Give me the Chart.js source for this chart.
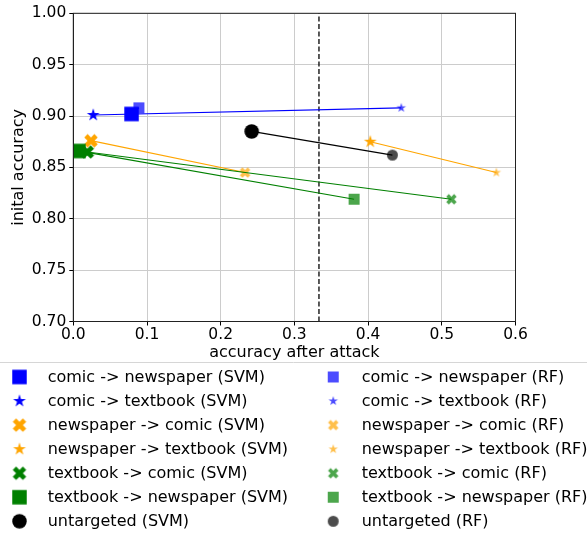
<!DOCTYPE html>
<html>
<head>
<meta charset="utf-8">
<script src="https://cdn.jsdelivr.net/npm/chart.js@4.4.1/dist/chart.umd.min.js"></script>
<style>
  html, body { margin: 0; padding: 0; background: #fff; }
  #wrap { width: 587px; height: 533px; }
</style>
</head>
<body>
<div id="wrap"><canvas id="chart" width="587" height="533"></canvas></div>
<script>
// one entry per attack, SVM point then RF point
const pairNames = ['comic -> newspaper', 'comic -> textbook', 'newspaper -> comic', 'newspaper -> textbook',
                   'textbook -> comic', 'textbook -> newspaper', 'untargeted'];
const pairColors = ['0,0,255', '0,0,255', '255,165,0', '255,165,0', '0,128,0', '0,128,0', '0,0,0'];
const pairShapes = ['square', 'star', 'x', 'star', 'x', 'square', 'circle'];

const svmX = [0.079, 0.027, 0.024, 0.403, 0.019, 0.007, 0.242];
const svmY = [0.902, 0.901, 0.876, 0.875, 0.865, 0.866, 0.885];
const rfX = [0.089, 0.445, 0.233, 0.574, 0.513, 0.381, 0.433];
const rfY = [0.908, 0.908, 0.845, 0.845, 0.819, 0.819, 0.862];

const xTicks = [0.0, 0.1, 0.2, 0.3, 0.4, 0.5, 0.6];
const yTicks = [0.70, 0.75, 0.80, 0.85, 0.90, 0.95, 1.00];
const threshold = 1 / 3;

// matplotlib-like filled markers drawn into small canvases
const svmSize = { square: 14.5, circle: 14.5, star: 13.5, x: 13.5 };
const rfSize = { square: 11, circle: 11, star: 10, x: 10.5 };

function makeMarker(shape, rgb, alpha, size) {
  const s = Math.ceil(size) + 4;
  const c = document.createElement('canvas');
  c.width = s;
  c.height = s;
  const g = c.getContext('2d');
  g.fillStyle = 'rgba(' + rgb + ',' + alpha + ')';
  g.translate(s / 2, s / 2);
  const r = size / 2;
  g.beginPath();
  if (shape === 'square') {
    g.rect(-r, -r, size, size);
  } else if (shape === 'circle') {
    g.arc(0, 0, r, 0, Math.PI * 2);
  } else if (shape === 'star') {
    for (let k = 0; k < 10; k++) {
      const rad = k % 2 ? r * 0.382 : r;
      const a = -Math.PI / 2 + k * Math.PI / 5;
      g.lineTo(rad * Math.cos(a), rad * Math.sin(a));
    }
  } else {
    const pts = [[-1, -2], [0, -1], [1, -2], [2, -1], [1, 0], [2, 1], [1, 2], [0, 1], [-1, 2], [-2, 1], [-1, 0], [-2, -1]];
    pts.forEach(p => g.lineTo(p[0] * r / 2, p[1] * r / 2));
  }
  g.closePath();
  g.fill();
  return c;
}

const svmMarkers = pairShapes.map((sh, i) => makeMarker(sh, pairColors[i], 1, svmSize[sh]));
const rfMarkers = pairShapes.map((sh, i) => makeMarker(sh, pairColors[i], 0.7, rfSize[sh]));

const datasets = pairNames.map((name, i) => ({
  label: name,
  data: [{ x: svmX[i], y: svmY[i] }, { x: rfX[i], y: rfY[i] }],
  showLine: true,
  borderColor: 'rgb(' + pairColors[i] + ')',
  borderWidth: 1.2,
  pointStyle: [svmMarkers[i], rfMarkers[i]],
  pointRadius: 6,
  pointHoverRadius: 6,
  clip: 0,
  order: 10 - i
}));

datasets.push({
  label: 'threshold',
  data: [{ x: threshold, y: yTicks[0] }, { x: threshold, y: yTicks[yTicks.length - 1] }],
  showLine: true,
  borderColor: '#000',
  borderWidth: 1.3,
  borderDash: [5, 2.5],
  pointRadius: 0,
  clip: 0,
  order: 20
});

const FONT = '"DejaVu Sans", sans-serif';

const framePlugin = {
  id: 'frame',
  afterDraw(chart) {
    const { ctx, chartArea: a } = chart;
    ctx.save();
    ctx.strokeStyle = '#222';
    ctx.lineWidth = 1;
    ctx.strokeRect(a.left, a.top, a.right - a.left, a.bottom - a.top);
    ctx.restore();
  }
};

const legendPlugin = {
  id: 'splitLegend',
  afterDraw(chart) {
    const ctx = chart.ctx;
    ctx.save();
    ctx.strokeStyle = '#d6d6d6';
    ctx.lineWidth = 1;
    ctx.beginPath();
    ctx.moveTo(0, 362.5);
    ctx.lineTo(587, 362.5);
    ctx.stroke();

    ctx.font = '16px ' + FONT;
    ctx.fillStyle = '#000';
    ctx.textBaseline = 'alphabetic';
    pairNames.forEach((name, i) => {
      const cy = 377 + i * 24.05;
      const by = 381.5 + i * 24.05;
      const m1 = svmMarkers[i], m2 = rfMarkers[i];
      ctx.drawImage(m1, 19.5 - m1.width / 2, cy - m1.height / 2);
      ctx.fillText(name + ' (SVM)', 47.7, by);
      ctx.drawImage(m2, 333.2 - m2.width / 2, cy - m2.height / 2);
      ctx.fillText(name + ' (RF)', 361.7, by);
    });
    ctx.restore();
  }
};

new Chart(document.getElementById('chart'), {
  type: 'scatter',
  data: { datasets },
  plugins: [framePlugin, legendPlugin],
  options: {
    responsive: false,
    animation: false,
    devicePixelRatio: 1,
    layout: { padding: { left: 0, top: 13.3, right: 71.5, bottom: 170.5 } },
    plugins: {
      legend: { display: false },
      tooltip: { enabled: false }
    },
    scales: {
      x: {
        type: 'linear',
        min: xTicks[0],
        max: xTicks[xTicks.length - 1],
        afterBuildTicks: s => { s.ticks = xTicks.map(v => ({ value: v })); },
        afterFit: s => { s.height = 41; },
        ticks: {
          callback: v => v.toFixed(1),
          color: '#000',
          font: { family: FONT, size: 15.5 },
          padding: 0.5,
          maxRotation: 0
        },
        grid: { color: '#cccccc', lineWidth: 1, tickLength: 4, tickColor: '#000' },
        border: { color: '#222', width: 1 },
        title: {
          display: true,
          text: 'accuracy after attack',
          color: '#000',
          font: { family: FONT, size: 16 },
          padding: { top: 0, bottom: 0 }
        }
      },
      y: {
        type: 'linear',
        min: yTicks[0],
        max: yTicks[yTicks.length - 1],
        afterBuildTicks: s => { s.ticks = yTicks.map(v => ({ value: v })); },
        afterFit: s => { s.width = 73.3; },
        ticks: {
          callback: v => v.toFixed(2),
          color: '#000',
          font: { family: FONT, size: 15.5 },
          padding: 3
        },
        grid: { color: '#cccccc', lineWidth: 1, tickLength: 4, tickColor: '#000' },
        border: { color: '#222', width: 1 },
        title: {
          display: true,
          text: 'inital accuracy',
          color: '#000',
          font: { family: FONT, size: 16 },
          padding: { top: 9.4, bottom: 0 }
        }
      }
    }
  }
});
</script>
</body>
</html>
